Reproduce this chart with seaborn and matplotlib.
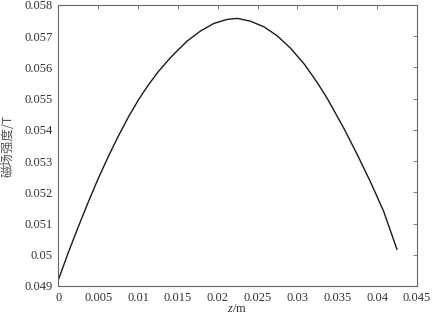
import matplotlib
matplotlib.use("Agg")
import matplotlib.pyplot as plt
import seaborn as sns
import pandas as pd

z_m = [0.0, 0.00123, 0.00249, 0.00374, 0.005, 0.00626, 0.00751, 0.00877,
       0.01003, 0.01128, 0.01254, 0.0138, 0.01449, 0.01617, 0.01784, 0.01951,
       0.02119, 0.02245, 0.02412, 0.02579, 0.02747, 0.02915, 0.0309, 0.03244,
       0.03375, 0.03584, 0.03746, 0.03913, 0.0408, 0.04249]
b_T = [0.04921, 0.05007, 0.05090, 0.05169, 0.05245, 0.05315, 0.05380, 0.05441,
       0.05496, 0.05544, 0.05587, 0.05624, 0.05643, 0.05685, 0.05717, 0.05741,
       0.05754, 0.05757, 0.05748, 0.05730, 0.05701, 0.05661, 0.05609, 0.05553,
       0.05500, 0.05404, 0.05323, 0.05235, 0.05140, 0.05017]

x_ticks = [0, 0.005, 0.01, 0.015, 0.02, 0.025, 0.03, 0.035, 0.04, 0.045]
x_tick_labels = ["0", "0.005", "0.01", "0.015", "0.02", "0.025", "0.03", "0.035", "0.04", "0.045"]
y_ticks = [0.049, 0.05, 0.051, 0.052, 0.053, 0.054, 0.055, 0.056, 0.057, 0.058]
y_tick_labels = ["0.049", "0.05", "0.051", "0.052", "0.053", "0.054", "0.055", "0.056", "0.057", "0.058"]

df = pd.DataFrame({"z": z_m, "B": b_T})

sns.set_style("white")
plt.rcParams['font.family'] = ['Liberation Serif', 'Noto Sans CJK SC']
plt.rcParams['mathtext.fontset'] = 'custom'
plt.rcParams['mathtext.rm'] = 'Liberation Serif'
plt.rcParams['mathtext.it'] = 'Liberation Serif:italic'

fig = plt.figure(figsize=(4.32, 3.17), dpi=100)
ax = fig.add_axes([58.5/432, 31/317, 358.5/432, 281/317])
sns.lineplot(data=df, x="z", y="B", ax=ax, color="#1a1a1a", linewidth=1.0)

ax.set_xlim(0, 0.045)
ax.set_ylim(0.049, 0.058)
ax.set_xticks(x_ticks)
ax.set_xticklabels(x_tick_labels)
ax.set_yticks(y_ticks)
ax.set_yticklabels(y_tick_labels)
for s in ax.spines.values():
    s.set_visible(True)
    s.set_color("#666666")
    s.set_linewidth(0.8)
ax.tick_params(direction="in", length=3, width=0.6, color="#666666",
               top=True, right=True, labelsize=9, labelcolor="#333333", pad=4)

ax.set_xlabel("")
ax.set_ylabel("")
fig.text(237/432, 1 - 309/317, r"$z$/m", ha="center", va="center", fontsize=9,
         color="#333333", family=['Liberation Serif'])
fig.text(8/432, 1 - 146/317, "磁场强度/T", ha="center", va="center", rotation=90,
         fontsize=9, color="#555555", family=['Noto Sans CJK SC', 'Liberation Serif'])
fig.savefig("out.png", dpi=100)
